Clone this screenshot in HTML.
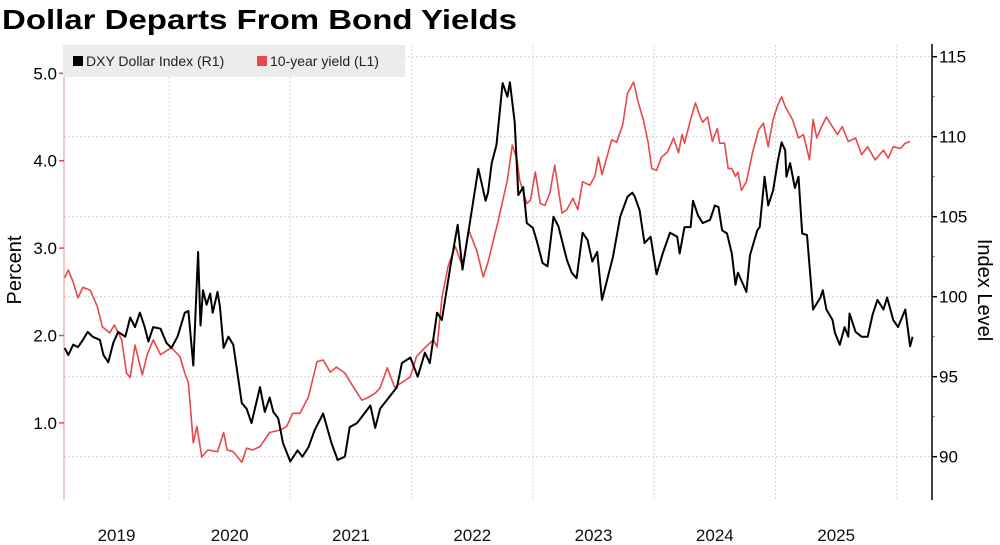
<!DOCTYPE html>
<html><head><meta charset="utf-8"><style>
html,body{margin:0;padding:0;background:#fff;}
svg{display:block;font-family:"Liberation Sans",sans-serif;}
</style></head><body>
<svg id="chart" width="1000" height="545" viewBox="0 0 1000 545">
<text x="2" y="29" font-size="28" font-weight="bold" fill="#000" textLength="515" lengthAdjust="spacingAndGlyphs">Dollar Departs From Bond Yields</text>
<g id="grid"></g>
<g id="axes"></g>
<g id="series"></g>
<g>
<rect x="63" y="45" width="342" height="32" fill="#ececec"/>
<rect x="73" y="56" width="10" height="10" fill="#000"/>
<text x="86" y="66" font-size="14" fill="#222">DXY Dollar Index (R1)</text>
<rect x="257" y="56" width="10" height="10" fill="#e8484c"/>
<text x="270" y="66" font-size="14" fill="#222">10-year yield (L1)</text>
</g>
<text transform="translate(21,270) rotate(-90)" text-anchor="middle" font-size="20" fill="#000">Percent</text>
<text transform="translate(978,290) rotate(90)" text-anchor="middle" font-size="20" fill="#000">Index Level</text>
</svg>
<script>
const yieldDates=[2019.14,2019.17,2019.21,2019.25,2019.29,2019.35,2019.41,2019.45,2019.51,2019.55,2019.61,2019.65,2019.68,2019.72,2019.78,2019.82,2019.87,2019.93,2020.02,2020.09,2020.13,2020.16,2020.20,2020.23,2020.27,2020.32,2020.40,2020.45,2020.48,2020.53,2020.60,2020.64,2020.69,2020.75,2020.83,2020.92,2020.97,2021.02,2021.08,2021.15,2021.22,2021.27,2021.33,2021.38,2021.45,2021.52,2021.59,2021.64,2021.70,2021.74,2021.80,2021.86,2021.93,2021.99,2022.04,2022.11,2022.18,2022.21,2022.25,2022.30,2022.36,2022.42,2022.47,2022.54,2022.59,2022.63,2022.71,2022.79,2022.83,2022.87,2022.89,2022.95,2022.98,2023.02,2023.06,2023.10,2023.14,2023.18,2023.24,2023.28,2023.33,2023.37,2023.41,2023.47,2023.51,2023.54,2023.57,2023.65,2023.69,2023.74,2023.78,2023.83,2023.87,2023.91,2023.95,2023.98,2024.02,2024.06,2024.11,2024.16,2024.20,2024.23,2024.25,2024.30,2024.34,2024.38,2024.40,2024.44,2024.48,2024.52,2024.54,2024.58,2024.61,2024.64,2024.67,2024.69,2024.72,2024.76,2024.81,2024.86,2024.90,2024.94,2024.98,2025.02,2025.05,2025.08,2025.14,2025.19,2025.23,2025.28,2025.31,2025.34,2025.38,2025.42,2025.45,2025.51,2025.55,2025.60,2025.66,2025.71,2025.76,2025.82,2025.89,2025.93,2025.97,2026.03,2026.07,2026.11];
const yieldValues=[2.66,2.75,2.61,2.43,2.55,2.52,2.33,2.10,2.03,2.12,1.95,1.57,1.52,1.89,1.55,1.78,1.95,1.78,1.86,1.76,1.57,1.46,0.77,0.96,0.61,0.69,0.67,0.89,0.69,0.67,0.55,0.71,0.69,0.73,0.89,0.92,0.96,1.11,1.11,1.30,1.70,1.72,1.58,1.64,1.57,1.41,1.26,1.29,1.34,1.40,1.63,1.41,1.47,1.53,1.76,1.86,1.95,1.87,2.43,2.79,3.02,2.79,3.21,2.96,2.67,2.84,3.29,3.78,4.18,4.01,3.78,3.51,3.55,3.87,3.51,3.49,3.63,3.95,3.40,3.44,3.57,3.44,3.76,3.72,3.82,4.04,3.84,4.24,4.21,4.41,4.77,4.90,4.66,4.47,4.21,3.91,3.89,4.04,4.10,4.26,4.09,4.30,4.20,4.47,4.66,4.50,4.44,4.50,4.22,4.37,4.20,4.20,3.91,3.91,3.82,3.87,3.66,3.76,4.09,4.35,4.43,4.16,4.47,4.64,4.73,4.62,4.47,4.26,4.30,4.01,4.47,4.26,4.39,4.50,4.43,4.30,4.39,4.22,4.26,4.07,4.16,4.01,4.12,4.03,4.16,4.14,4.20,4.22];
const dxyDates=[2019.14,2019.17,2019.21,2019.25,2019.29,2019.33,2019.37,2019.43,2019.46,2019.50,2019.54,2019.58,2019.64,2019.68,2019.72,2019.76,2019.80,2019.83,2019.87,2019.93,2019.98,2020.02,2020.07,2020.13,2020.16,2020.20,2020.24,2020.26,2020.28,2020.31,2020.34,2020.36,2020.40,2020.42,2020.45,2020.49,2020.53,2020.60,2020.64,2020.68,2020.75,2020.79,2020.83,2020.86,2020.90,2020.94,2021.00,2021.06,2021.10,2021.15,2021.20,2021.27,2021.34,2021.39,2021.45,2021.49,2021.55,2021.60,2021.66,2021.70,2021.74,2021.88,2021.92,2021.99,2022.05,2022.11,2022.15,2022.21,2022.25,2022.32,2022.38,2022.42,2022.48,2022.55,2022.61,2022.63,2022.66,2022.70,2022.75,2022.79,2022.81,2022.85,2022.88,2022.92,2022.95,2023.00,2023.03,2023.08,2023.12,2023.17,2023.21,2023.28,2023.32,2023.36,2023.41,2023.45,2023.49,2023.53,2023.57,2023.61,2023.66,2023.72,2023.78,2023.82,2023.84,2023.88,2023.92,2023.97,2024.02,2024.07,2024.13,2024.19,2024.21,2024.25,2024.30,2024.32,2024.36,2024.40,2024.46,2024.50,2024.53,2024.56,2024.60,2024.64,2024.67,2024.69,2024.76,2024.79,2024.85,2024.87,2024.91,2024.94,2024.98,2025.02,2025.05,2025.08,2025.09,2025.12,2025.16,2025.19,2025.22,2025.26,2025.31,2025.37,2025.39,2025.42,2025.47,2025.49,2025.53,2025.57,2025.60,2025.61,2025.66,2025.71,2025.76,2025.80,2025.84,2025.89,2025.92,2025.97,2026.01,2026.07,2026.11,2026.13];
const dxyValues=[96.8,96.35,97.0,96.85,97.3,97.8,97.5,97.3,96.35,95.9,97.1,97.8,97.5,98.7,98.1,99.0,98.1,97.2,98.1,98.0,97.1,96.8,97.5,99.0,99.1,95.7,102.8,98.2,100.4,99.5,100.2,99.0,100.3,99.4,96.8,97.5,97.0,93.35,93.0,92.1,94.35,92.8,93.7,92.8,92.4,90.85,89.7,90.4,90.0,90.6,91.65,92.7,90.85,89.8,90.0,91.85,92.1,92.6,93.2,91.8,93.0,94.35,95.85,96.2,95.0,96.5,95.85,99.0,98.55,101.9,104.5,101.7,104.6,108.0,106.0,106.5,108.35,109.5,113.35,112.5,113.4,110.9,106.35,106.85,104.6,104.3,103.55,102.1,101.9,105.0,104.4,102.3,101.5,101.15,104.0,103.55,102.2,102.8,99.8,101.0,102.5,105.0,106.25,106.5,106.25,105.4,103.35,103.75,101.4,102.7,104.0,103.75,102.7,104.35,104.35,106.0,105.1,104.6,104.8,105.7,105.6,104.15,103.95,102.7,100.75,101.5,100.3,102.6,104.15,104.35,107.5,105.7,106.65,108.5,109.65,109.15,107.5,108.35,106.8,107.5,103.95,103.85,99.2,99.95,100.4,99.2,98.55,97.75,97.0,98.1,97.5,98.95,97.8,97.5,97.5,98.85,99.8,99.2,99.95,98.55,98.1,99.2,96.9,97.5];
const leftTicks=[1.0,2.0,3.0,4.0,5.0];
const rightTicks=[90,95,100,105,110,115];
const yearLabels=["2019","2020","2021","2022","2023","2024","2025"];
const yearBoundaries=[2020,2021,2022,2023,2024,2025,2026];

const NS="http://www.w3.org/2000/svg";
const PLOT_LEFT=64;
function xOf(t){return 169+(t-2020)*121.3;}
function yL(v){return 73.3+(5-v)*87.4;}
function yR(r){return 56.7+(115-r)*16;}
function mk(tag,attrs,parent){const e=document.createElementNS(NS,tag);for(const k in attrs)e.setAttribute(k,attrs[k]);parent.appendChild(e);return e;}
const grid=document.getElementById('grid'),axes=document.getElementById('axes'),series=document.getElementById('series');

rightTicks.forEach(r=>{
  const l=mk('line',{x1:64,x2:932,y1:yR(r),y2:yR(r),stroke:'#cfcfcf','stroke-width':1,'stroke-dasharray':'2,2'},grid);
  
  
  const tk=mk('line',{x1:932,x2:937,y1:yR(r),y2:yR(r),stroke:'#000','stroke-width':1.5},axes);
  
  
  const tx=mk('text',{x:939,y:yR(r)+6,'font-size':17,fill:'#000'},axes);
  tx.textContent=String(r);
  
  
});
for(let r=92.5;r<115;r+=5){
  const tk=mk('line',{x1:932,x2:935,y1:yR(r),y2:yR(r),stroke:'#888','stroke-width':1},axes);
  
  
}
yearBoundaries.forEach(t=>{
  const l=mk('line',{x1:xOf(t),x2:xOf(t),y1:45,y2:500,stroke:'#d5d5d5','stroke-width':1,'stroke-dasharray':'2,2'},grid);
  
  
});
yearLabels.forEach(y=>{
  const a=Math.max(PLOT_LEFT,xOf(+y)), b=xOf(+y+1);
  const tx=mk('text',{x:(a+b)/2,y:541,'font-size':17,'text-anchor':'middle',fill:'#111'},axes);
  tx.textContent=y;
  
  
});
const la=mk('line',{x1:64,x2:64,y1:45,y2:500,stroke:'#f0a0a2','stroke-width':1.2},axes);


const ra=mk('line',{x1:932,x2:932,y1:44,y2:500,stroke:'#000','stroke-width':1.5},axes);


leftTicks.forEach(v=>{
  const tk=mk('line',{x1:59,x2:64,y1:yL(v),y2:yL(v),stroke:'#e8484c','stroke-width':1.5},axes);
  
  
  const tx=mk('text',{x:57,y:yL(v)+6,'font-size':17,'text-anchor':'end',fill:'#000'},axes);
  tx.textContent=v.toFixed(1);
  
  
});
function pathFrom(ds,vs,yf){return ds.map((d,i)=>(i?'L':'M')+xOf(d).toFixed(1)+','+yf(vs[i]).toFixed(1)).join('');}
const py=mk('path',{d:pathFrom(yieldDates,yieldValues,yL),fill:'none',stroke:'#e8484c','stroke-width':1.6,'stroke-linejoin':'round'},series);


const pd=mk('path',{d:pathFrom(dxyDates,dxyValues,yR),fill:'none',stroke:'#000','stroke-width':2,'stroke-linejoin':'round'},series);


</script>
</body></html>
